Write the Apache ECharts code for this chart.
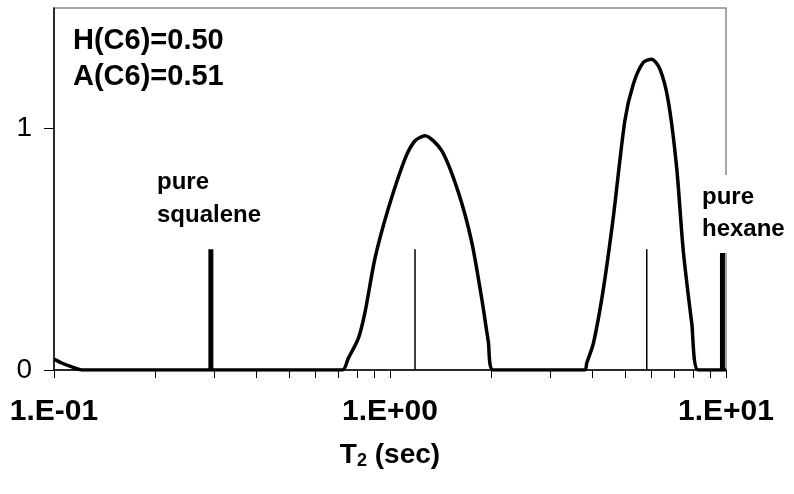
<!DOCTYPE html>
<html><head><meta charset="utf-8">
<script src="https://cdn.jsdelivr.net/npm/echarts@6/dist/echarts.min.js"></script>
<style>html,body{margin:0;padding:0;background:#fff}#c{width:794px;height:494px}</style>
</head><body><div id="c"></div>
<script>
// T2 distribution curve (sec, amplitude)
const curveT2  = [0.1, 0.105, 0.112, 0.121, 0.721, 0.751, 0.805, 0.843, 0.902, 0.988, 1.108, 1.187, 1.271, 1.425, 1.597, 1.751, 1.875, 1.962, 2.029, 3.80, 3.85, 4.03, 4.31, 4.62, 5.00, 5.30, 5.67, 6.01, 6.36, 6.73, 7.13, 7.46, 7.91, 8.27, 10];
const curveAmp = [0.045, 0.030, 0.015, 0, 0, 0.048, 0.131, 0.241, 0.462, 0.668, 0.875, 0.950, 0.971, 0.909, 0.737, 0.530, 0.296, 0.117, 0, 0, 0.028, 0.110, 0.331, 0.634, 1.033, 1.185, 1.274, 1.288, 1.247, 1.116, 0.840, 0.496, 0.193, 0, 0];
// pure component sticks (thick)
const pureT2  = [0.293, 9.76];
const pureAmp = [0.5, 0.5];
// mixture component sticks (thin)
const mixT2  = [1.187, 5.81];
const mixAmp = [0.5, 0.5];
// axis ticks
const xTickValues = [0.1, 1, 10];
const xTickLabels = ['1.E-01', '1.E+00', '1.E+01'];
const xMinorTicks = [0.1,0.2,0.3,0.4,0.5,0.6,0.7,0.8,0.9,1,2,3,4,5,6,7,8,9,10];
const yTickValues = [0, 1];
const yTickLabels = ['0', '1'];

const FONT = '"Liberation Sans", Arial, sans-serif';
const chart = echarts.init(document.getElementById('c'), null, {renderer: 'canvas'});

function stick(t, a, w) {
  return {type: 'line', data: [[t, 0], [t, a]], symbol: 'none', silent: true, z: 3,
          lineStyle: {color: '#000', width: w}};
}

const series = [
  {type: 'line', data: curveT2.map((t, i) => [t, curveAmp[i]]), symbol: 'none', smooth: 0.25,
   lineStyle: {color: '#000', width: 3.5}, z: 4, silent: true}
];
pureT2.forEach((t, i) => series.push(stick(t, pureAmp[i], 5)));
mixT2.forEach((t, i) => series.push(stick(t, mixAmp[i], 1.5)));

chart.setOption({
  animation: false,
  backgroundColor: '#fff',
  grid: {left: 54, right: 68, top: 8, bottom: 124, show: true, borderColor: '#8a8a8a', borderWidth: 1.5, backgroundColor: 'transparent'},
  xAxis: {
    type: 'log', logBase: 10, min: 0.1, max: 10,
    axisLine: {show: true, lineStyle: {color: '#000', width: 1.5}},
    axisTick: {show: true, customValues: xMinorTicks, length: 8, lineStyle: {color: '#000', width: 1}},
    axisLabel: {customValues: xTickValues, margin: 27,
      formatter: v => { const i = xTickValues.findIndex(x => Math.abs(x - v) < 1e-9); return i >= 0 ? xTickLabels[i] : ''; },
      color: '#000', fontFamily: FONT, fontWeight: 'bold', fontSize: 30},
    splitLine: {show: false}, minorSplitLine: {show: false},
    name: '{a|T}{s|2}{a| (sec)}', nameLocation: 'middle', nameGap: 70,
    nameTextStyle: {rich: {
      a: {fontFamily: FONT, fontWeight: 'bold', fontSize: 28, color: '#000'},
      s: {fontFamily: FONT, fontWeight: 'bold', fontSize: 18, color: '#000', verticalAlign: 'bottom', padding: [12, 0, 0, 0]}
    }}
  },
  yAxis: {
    type: 'value', min: 0, max: 1.5,
    axisLine: {show: true, lineStyle: {color: '#000', width: 1.5}},
    axisTick: {show: true, customValues: yTickValues, length: 10, lineStyle: {color: '#000', width: 1}},
    axisLabel: {customValues: yTickValues, margin: 22,
      formatter: v => { const i = yTickValues.indexOf(v); return i >= 0 ? yTickLabels[i] : ''; },
      color: '#000', fontFamily: FONT, fontSize: 28},
    splitLine: {show: false}
  },
  graphic: [
    {type: 'text', left: 73, top: 26, z: 100, style: {text: 'H(C6)=0.50', font: 'bold 29px ' + FONT, fill: '#000'}},
    {type: 'text', left: 73, top: 62, z: 100, style: {text: 'A(C6)=0.51', font: 'bold 29px ' + FONT, fill: '#000'}},
    {type: 'text', left: 157, top: 166, z: 100, style: {text: 'pure\nsqualene', font: 'bold 24px ' + FONT, fill: '#000', lineHeight: 33}},
    {type: 'text', left: 700, top: 175, z: 100, style: {text: 'pure\nhexane', font: 'bold 24px ' + FONT, fill: '#000', lineHeight: 32,
      backgroundColor: '#fff', padding: [6, 2, 8, 2]}}
  ],
  series: series
});
</script>
</body></html>
